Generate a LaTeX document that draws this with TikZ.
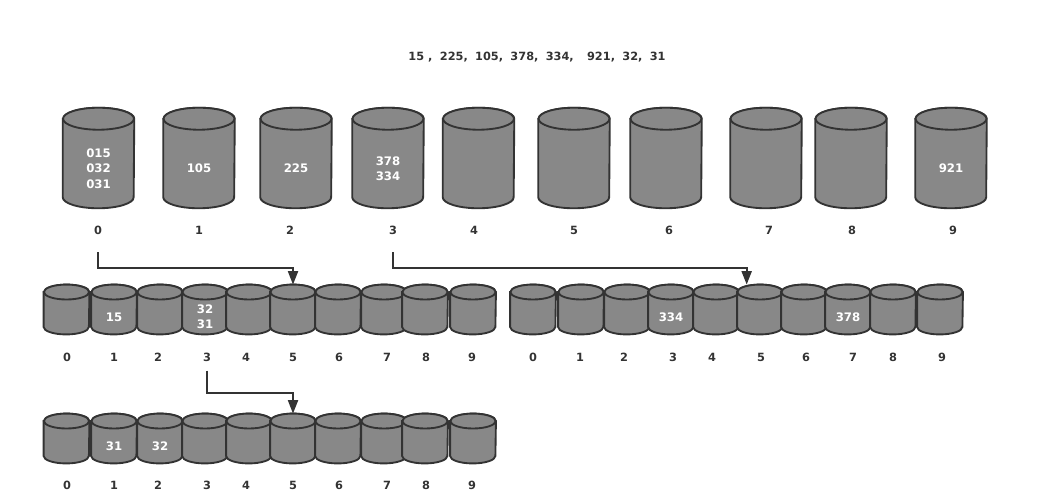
\documentclass[tikz,border=0pt]{standalone}
\usepackage{fontspec}
\setmainfont{DejaVu Sans}
\usetikzlibrary{arrows.meta}

\definecolor{drumgray}{HTML}{888888}
\definecolor{ink}{HTML}{333333}

\tikzset{
	bigbox/.style={rectangle, minimum width=53.25pt, minimum height=75pt, inner sep=0pt},
	smallbox/.style={rectangle, minimum width=34pt, minimum height=37pt, inner sep=0pt},
	drumline/.style={draw=ink, fill=drumgray, line width=1.4pt},
	num/.style={text=ink, font=\fontsize{8.5}{10}\selectfont\bfseries},
	val/.style={text=white, align=center, font=\fontsize{8.8}{11.5}\selectfont\bfseries},
	link/.style={draw=ink, line width=1.3pt, -{Triangle[length=10pt,width=7.5pt]}}
}

% cylinder drawn round a box node: #1 node, #2 x radius, #3 y radius of the caps
\newcommand\drum[3]{%
	\filldraw[drumline] ([yshift=-#3]#1.north west) -- ([yshift=#3]#1.south west)
	arc[start angle=180, end angle=360, x radius=#2, y radius=#3]
	-- ([yshift=-#3]#1.north east)
	arc[start angle=0, end angle=180, x radius=#2, y radius=#3] -- cycle;
	\draw[drumline] ([yshift=-#3]#1.north) ellipse[x radius=#2, y radius=#3];
}

\begin{document}
\begin{tikzpicture}[x=0.75pt, y=-0.75pt]
		\useasboundingbox (0,0) rectangle (1059,503);

		% Input sequence
		\node[num] (seq) at (537,57) {15\hspace{3pt},\hspace{5.5pt}225,\hspace{5.5pt}105,\hspace{5.5pt}378,\hspace{5.5pt}334,\hspace{10pt}921,\hspace{5.5pt}32,\hspace{5.5pt}31};

		% First pass: ten large buckets
		\foreach \i/\x/\lx in {0/98.5/98, 1/199/199, 2/296/290, 3/388/393, 4/478.5/474,
				5/574/574, 6/666/669, 7/766/769, 8/851/852, 9/951/953} {
				\node[bigbox] (a\i) at (\x,158) {};
				\drum{a\i}{26.6pt}{8.25pt}
				\node[num] (la\i) at (\lx,230) {\i};
			}
		\node[val] (va0) at ([yshift=-8pt]a0.center) {015\\032\\031};
		\node[val] (va1) at ([yshift=-8pt]a1.center) {105};
		\node[val] (va2) at ([yshift=-8pt]a2.center) {225};
		\node[val] (va3) at ([yshift=-8pt]a3.center) {378\\334};
		\node[val] (va9) at ([yshift=-8pt]a9.center) {921};

		% Second pass: bucket 0 (left) and bucket 3 (right)
		\foreach \i/\x/\lx in {0/66.5/67, 1/114/114, 2/160/158, 3/205/207, 4/249/246,
				5/293/293, 6/338/339, 7/384/387, 8/425/426, 9/473/472} {
				\node[smallbox] (b\i) at (\x,309.5) {};
				\drum{b\i}{17pt}{5.6pt}
				\node[num] (lb\i) at (\lx,357) {\i};
			}
		\foreach \i/\x/\lx in {0/533/533, 1/581/580, 2/627/624, 3/671/673, 4/716/712,
				5/760/761, 6/804/806, 7/848/853, 8/893/893, 9/940/942} {
				\node[smallbox] (c\i) at (\x,309.5) {};
				\drum{c\i}{17pt}{5.6pt}
				\node[num] (lc\i) at (\lx,357) {\i};
			}
		\node[val] (vb1) at ([yshift=-5.6pt]b1.center) {15};
		\node[val] (vb3) at ([yshift=-5.6pt]b3.center) {32\\31};
		\node[val] (vc3) at ([yshift=-5.6pt]c3.center) {334};
		\node[val] (vc7) at ([yshift=-5.6pt]c7.center) {378};

		% Third pass: bucket 3 of the left row
		\foreach \i/\x/\lx in {0/66.5/67, 1/114/114, 2/160/158, 3/205/207, 4/249/246,
				5/293/293, 6/338/339, 7/384/387, 8/425/426, 9/473/472} {
				\node[smallbox] (d\i) at (\x,438.5) {};
				\drum{d\i}{17pt}{5.6pt}
				\node[num] (ld\i) at (\lx,485) {\i};
			}
		\node[val] (vd1) at ([yshift=-5.6pt]d1.center) {31};
		\node[val] (vd2) at ([yshift=-5.6pt]d2.center) {32};

		% Connectors
		\draw[link] ([yshift=-10pt]la0.south) -- ++(0,16) -| (b5.north);
		\draw[link] ([yshift=-10pt]la3.south) -- ++(0,16) -| ([xshift=-10pt]c5.north);
		\draw[link] ([yshift=-3.5pt]lb3.south) -- ++(0,22) -| (d5.north);
	\end{tikzpicture}
\end{document}
